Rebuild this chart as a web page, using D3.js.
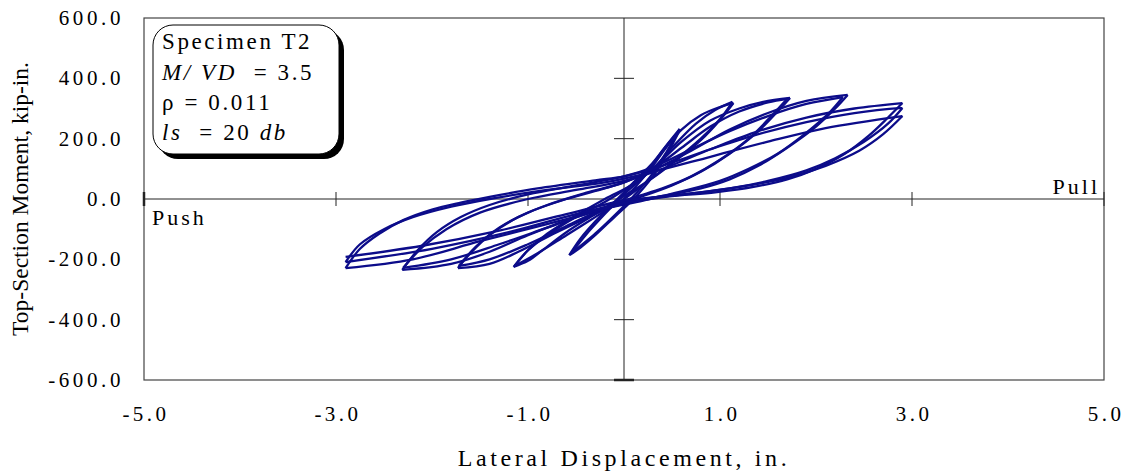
<!DOCTYPE html>
<html>
<head>
<meta charset="utf-8">
<script src="https://cdn.jsdelivr.net/npm/d3@7"></script>
<style>
body { margin: 0; background: #fff; }
text { font-family: "Liberation Serif", "Times New Roman", serif; fill: #000; }
</style>
</head>
<body>
<div id="container"></div>
<script>
var w = 1127;
var h = 475;

// tick labels
var xTicks = [-5, -3, -1, 1, 3, 5];
var yTicks = [-600, -400, -200, 0, 200, 400, 600];

// hysteresis branches [displacement in., moment kip-in.], by drift level
var level1 = [
  [[0, 0], [0.2, 70], [0.4, 160], [0.58, 232]],
  [[0.58, 232], [0.45, 160], [0.3, 85], [0.1, 10], [-0.1, -55], [-0.3, -115], [-0.45, -155], [-0.57, -186]],
  [[-0.57, -186], [-0.45, -130], [-0.3, -75], [-0.1, -10], [0.1, 55], [0.3, 120], [0.45, 180], [0.58, 228]],
  [[0.58, 228], [0.45, 150], [0.3, 75], [0.1, 0], [-0.1, -60], [-0.3, -120], [-0.45, -160], [-0.56, -184]]
];
var level2 = [
  [[-0.56, -184], [-0.4, -120], [-0.2, -50], [0, 15], [0.24, 86], [0.45, 175], [0.6, 230], [0.8, 278], [1.0, 305], [1.14, 318]],
  [[1.14, 318], [1.0, 262], [0.8, 195], [0.55, 130], [0.3, 70], [0, 10], [-0.3, -50], [-0.6, -110], [-0.85, -170], [-1.0, -205], [-1.15, -225]],
  [[-1.15, -225], [-1.0, -170], [-0.8, -115], [-0.5, -55], [-0.2, 0], [0.1, 50], [0.3, 100], [0.5, 170], [0.75, 250], [0.95, 295], [1.13, 322]],
  [[1.13, 322], [1.0, 265], [0.8, 200], [0.5, 120], [0.25, 60], [0, 0], [-0.3, -60], [-0.6, -120], [-0.9, -180], [-1.14, -222]]
];
var level3 = [
  [[-1.14, -222], [-1.0, -170], [-0.8, -120], [-0.5, -60], [-0.2, -10], [0, 30], [0.3, 100], [0.6, 190], [0.9, 260], [1.2, 300], [1.45, 322], [1.73, 335]],
  [[1.73, 335], [1.6, 290], [1.4, 225], [1.1, 150], [0.8, 90], [0.5, 45], [0.2, 10], [0, -10], [-0.3, -50], [-0.7, -110], [-1.1, -175], [-1.4, -215], [-1.73, -229]],
  [[-1.73, -229], [-1.6, -180], [-1.4, -120], [-1.1, -60], [-0.8, -20], [-0.4, 20], [0, 55], [0.3, 100], [0.6, 170], [0.9, 240], [1.2, 290], [1.5, 320], [1.7, 332]],
  [[1.7, 332], [1.55, 280], [1.3, 200], [1.0, 130], [0.7, 75], [0.4, 35], [0.1, 5], [-0.2, -30], [-0.6, -90], [-1.0, -150], [-1.4, -200], [-1.72, -222]]
];
var level4 = [
  [[-1.72, -222], [-1.55, -160], [-1.3, -95], [-1.0, -45], [-0.6, 0], [-0.2, 35], [0, 55], [0.3, 95], [0.7, 160], [1.1, 230], [1.5, 285], [1.9, 325], [2.33, 345]],
  [[2.33, 345], [2.2, 300], [2.0, 240], [1.7, 170], [1.4, 110], [1.1, 65], [0.8, 35], [0.4, 10], [0, -15], [-0.5, -60], [-1.0, -120], [-1.4, -175], [-1.8, -215], [-2.31, -235]],
  [[-2.31, -235], [-2.15, -170], [-1.95, -110], [-1.7, -60], [-1.4, -20], [-1.0, 15], [-0.5, 45], [0, 75], [0.3, 105], [0.7, 165], [1.1, 225], [1.5, 275], [1.9, 315], [2.28, 338]],
  [[2.28, 338], [2.15, 290], [1.9, 220], [1.6, 150], [1.3, 100], [1.0, 60], [0.6, 25], [0.2, -5], [-0.3, -40], [-0.8, -95], [-1.3, -150], [-1.8, -200], [-2.3, -228]]
];
var level5 = [
  [[-2.3, -228], [-2.1, -160], [-1.85, -100], [-1.5, -45], [-1.0, 0], [-0.5, 30], [0, 60], [0.4, 100], [0.9, 165], [1.4, 225], [1.9, 270], [2.4, 300], [2.9, 318]],
  [[2.9, 318], [2.75, 270], [2.55, 210], [2.3, 150], [2.0, 100], [1.7, 65], [1.35, 40], [0.95, 22], [0.45, 8], [0, -15], [-0.7, -75], [-1.5, -140], [-2.2, -200], [-2.9, -229]],
  [[-2.9, -229], [-2.75, -165], [-2.55, -115], [-2.3, -70], [-2.0, -35], [-1.7, -12], [-1.4, 7], [-0.9, 35], [-0.3, 62], [0, 75], [0.4, 110], [0.9, 165], [1.4, 215], [1.9, 255], [2.4, 285], [2.9, 302]],
  [[2.9, 302], [2.75, 250], [2.5, 190], [2.2, 135], [1.9, 95], [1.5, 60], [1.1, 35], [0.6, 15], [0.1, -5], [-0.5, -50], [-1.2, -110], [-2.0, -165], [-2.9, -209]],
  [[-2.9, -209], [-2.75, -150], [-2.5, -100], [-2.2, -60], [-1.8, -25], [-1.4, 0], [-0.8, 30], [-0.2, 55], [0.3, 90], [0.9, 140], [1.5, 190], [2.1, 235], [2.9, 275]],
  [[2.9, 275], [2.7, 215], [2.45, 160], [2.1, 110], [1.7, 70], [1.3, 45], [0.8, 22], [0.3, 5], [0, -5], [-0.6, -50], [-1.3, -105], [-2.1, -155], [-2.9, -192]]
];

var svg = d3.select("div#container").append("svg")
  .attr("width", w)
  .attr("height", h);

var x = d3.scaleLinear().domain([-5, 5]).range([144, 1104]);
var y = d3.scaleLinear().domain([-600, 600]).range([380, 18]);

// plot frame
svg.append("rect")
  .attr("x", x(-5)).attr("y", y(600))
  .attr("width", x(5) - x(-5)).attr("height", y(-600) - y(600))
  .style("fill", "none").style("stroke", "#444").style("stroke-width", 1.2);

// zero axes
svg.append("line")
  .attr("x1", x(-5)).attr("x2", x(5)).attr("y1", y(0)).attr("y2", y(0))
  .style("stroke", "#222").style("stroke-width", 1);
svg.append("line")
  .attr("x1", x(0)).attr("x2", x(0)).attr("y1", y(600)).attr("y2", y(-600))
  .style("stroke", "#222").style("stroke-width", 1);

// cross ticks on the zero axes
svg.selectAll("line.xt").data(xTicks).enter().append("line")
  .attr("class", "xt")
  .attr("x1", function(d) { return x(d); }).attr("x2", function(d) { return x(d); })
  .attr("y1", y(0) - 7).attr("y2", y(0) + 7)
  .style("stroke", "#222")
  .style("stroke-width", function(d) { return d == -5 ? 2.5 : 1; });
svg.selectAll("line.yt").data(yTicks.filter(function(d) { return d != 0 && d != 600; })).enter().append("line")
  .attr("class", "yt")
  .attr("x1", x(0) - 10).attr("x2", x(0) + 10)
  .attr("y1", function(d) { return y(d); }).attr("y2", function(d) { return y(d); })
  .style("stroke", "#222")
  .style("stroke-width", function(d) { return d == -600 ? 2.5 : 1; });

// tick labels
svg.selectAll("text.xl").data(xTicks).enter().append("text")
  .attr("class", "xl")
  .attr("x", function(d) { return x(d) + 2; })
  .attr("y", 421)
  .attr("text-anchor", "middle")
  .style("font-size", "21px")
  .style("letter-spacing", "3.5px")
  .text(function(d) { return d.toFixed(1); });

svg.selectAll("text.yl").data(yTicks).enter().append("text")
  .attr("class", "yl")
  .attr("x", 124)
  .attr("y", function(d) { return y(d) + 7; })
  .attr("text-anchor", "end")
  .style("font-size", "21px")
  .style("letter-spacing", "3.6px")
  .text(function(d) { return d.toFixed(1); });

// axis titles
svg.append("text")
  .attr("x", 624).attr("y", 466)
  .attr("text-anchor", "middle")
  .style("font-size", "24px")
  .style("letter-spacing", "3.6px")
  .text("Lateral Displacement, in.");

svg.append("text")
  .attr("transform", "translate(28,199) rotate(-90)")
  .attr("text-anchor", "middle")
  .style("font-size", "23.5px")
  .text("Top-Section Moment, kip-in.");

svg.append("text")
  .attr("x", 152).attr("y", 225)
  .style("font-size", "22px")
  .style("letter-spacing", "3px")
  .text("Push");
svg.append("text")
  .attr("x", 1100).attr("y", 194)
  .attr("text-anchor", "end")
  .style("font-size", "22px")
  .style("letter-spacing", "3px")
  .text("Pull");

// hysteresis curve
var line = d3.line()
  .x(function(d) { return x(d[0]); })
  .y(function(d) { return y(d[1]); })
  .curve(d3.curveCatmullRom.alpha(0.5));

var branches = [].concat(level1, level2, level3, level4, level5);
svg.append("g").selectAll("path").data(branches).enter().append("path")
  .attr("d", line)
  .style("fill", "none")
  .style("stroke", "#0c0c8a")
  .style("stroke-width", 2.3)
  .style("stroke-linejoin", "round");

// specimen note box
var note = svg.append("g");
note.append("rect")
  .attr("x", 158).attr("y", 30).attr("width", 186).attr("height", 129)
  .attr("rx", 20).attr("ry", 20)
  .style("fill", "#000");
note.append("rect")
  .attr("x", 153).attr("y", 25).attr("width", 186).attr("height", 129)
  .attr("rx", 20).attr("ry", 20)
  .style("fill", "#fff").style("stroke", "#000").style("stroke-width", 1);

var t1 = note.append("text").attr("x", 162).attr("y", 49)
  .style("font-size", "23px").style("letter-spacing", "2.6px");
t1.text("Specimen T2");

var t2 = note.append("text").attr("x", 162).attr("y", 80)
  .style("font-size", "23px").style("letter-spacing", "2.6px")
  .attr("xml:space", "preserve").style("white-space", "pre");
t2.append("tspan").style("font-style", "italic").text("M/ VD");
t2.append("tspan").text("  = 3.5");

var t3 = note.append("text").attr("x", 162).attr("y", 110)
  .style("font-size", "23px").style("letter-spacing", "2.6px");
t3.text("ρ = 0.011");

var t4 = note.append("text").attr("x", 162).attr("y", 140)
  .style("font-size", "23px").style("letter-spacing", "2.6px")
  .style("white-space", "pre");
t4.append("tspan").style("font-style", "italic").text("ls");
t4.append("tspan").text("  = 20 ");
t4.append("tspan").style("font-style", "italic").text("db");
</script>
</body>
</html>
